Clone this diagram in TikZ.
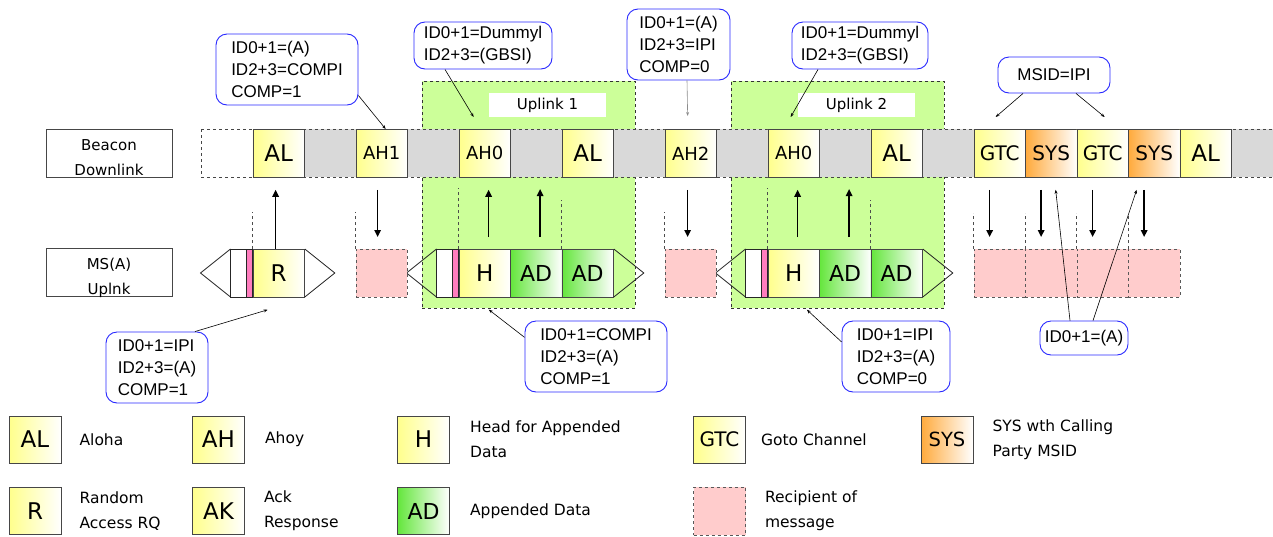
\documentclass[tikz,border=0pt]{standalone}
\usepackage{fontspec}
\setmainfont{DejaVu Sans}
\newfontfamily\calloutfont{Liberation Sans}
\usepackage{xcolor}
\definecolor{cellyellow}{RGB}{255,255,140}
\definecolor{cellgreen}{RGB}{100,230,60}
\definecolor{cellorange}{RGB}{255,170,60}
\definecolor{rcptpink}{RGB}{255,204,204}
\definecolor{markpink}{RGB}{255,125,190}
\definecolor{stripgray}{RGB}{217,217,217}
\definecolor{zonegreen}{RGB}{204,255,153}
\definecolor{calloutblue}{RGB}{40,40,255}
\definecolor{celledge}{RGB}{70,70,70}
\usepackage{tikz}
\usetikzlibrary{positioning,arrows.meta,calc}
\tikzset{
  yelshade/.style={left color=cellyellow,right color=white},
  grnshade/.style={left color=cellgreen,right color=white},
  orgshade/.style={left color=cellorange,right color=white},
  cell/.style={draw=celledge,line width=0.8pt,inner sep=0pt,
    minimum width=51.5pt,minimum height=48pt,anchor=north west},
  alcell/.style={cell,yelshade,font=\fontsize{23}{23}\selectfont},
  ahcell/.style={cell,yelshade,font=\fontsize{18}{18}\selectfont},
  gtccell/.style={cell,yelshade,font=\fontsize{20}{20}\selectfont},
  syscell/.style={cell,orgshade,font=\fontsize{20}{20}\selectfont},
  adcell/.style={cell,grnshade,font=\fontsize{22}{22}\selectfont},
  rcptcell/.style={cell,dashed,draw=black!65,fill=rcptpink},
  lanebox/.style={draw=celledge,line width=0.9pt,minimum width=126pt,
    minimum height=48pt,inner sep=0pt},
  lanetext/.style={align=center,inner sep=0pt,font=\fontsize{15}{25}\selectfont},
  uplinkzone/.style={draw=black!80,dashed,line width=0.7pt,fill=zonegreen,
    minimum width=213pt,minimum height=227pt,anchor=north west,inner sep=0pt},
  zonelabel/.style={fill=white,minimum width=117pt,minimum height=24pt,
    inner sep=0pt,font=\fontsize{15}{15}\selectfont},
  pktedge/.style={draw=black!85,line width=0.8pt},
  guide/.style={dashed,draw=black!70,line width=0.6pt},
  flow/.style={-{Triangle[length=7pt,width=6.5pt]},line width=1.4pt},
  callout/.style={draw=calloutblue,rounded corners=11pt,line width=0.9pt,
    fill=white,align=left,inner sep=0pt,
    font=\calloutfont\fontsize{17}{22}\selectfont},
  lead/.style={-{Stealth[length=4pt,width=3pt]},line width=0.6pt},
  legbox/.style={draw=celledge,line width=0.8pt,inner sep=0pt,
    minimum width=52pt,minimum height=47pt},
  legtext/.style={anchor=west,align=left,inner sep=0pt,
    font=\fontsize{15.5}{25}\selectfont},
}
\begin{document}
\begin{tikzpicture}[x=1pt,y=-1pt]
  \useasboundingbox (0,0) rectangle (1273,536);
  % --- uplink zones ---
  \node[uplinkzone] (UL1) at (422,81) {};
  \node[uplinkzone] (UL2) at (731,81) {};
  \node[zonelabel] (UL1lab) at (547.5,105) {Uplink 1};
  \node[zonelabel] (UL2lab) at (856.5,105) {Uplink 2};
  % --- lane labels ---
  \node[lanebox] (BD) at (109,153) {};
  \node[lanetext] (BDt) at ([yshift=-5pt]BD.center) {Beacon\\Downlink};
  \node[lanebox] (MS) at (109,272.5) {};
  \node[lanetext] (MSt) at ([yshift=-5pt]MS.center) {MS(A)\\Uplnk};
  % --- beacon strip ---
  \fill[white] (201,129) rectangle (252.5,177);
  \fill[stripgray] (252.5,129) rectangle (1273,177);
  \draw[guide,draw=celledge] (201,129) -- (1273,129) (201,177) -- (1273,177) (201,129) -- (201,177);
  \foreach \name/\k/\lab/\sty in {AL1/1/AL/alcell,AH1/3/AH1/ahcell,AH0a/5/AH0/ahcell,
      AL2/7/AL/alcell,AH2/9/AH2/ahcell,AH0b/11/AH0/ahcell,AL3/13/AL/alcell,
      GTC1/15/GTC/gtccell,SYS1/16/SYS/syscell,GTC2/17/GTC/gtccell,
      SYS2/18/SYS/syscell,AL4/19/AL/alcell}{
    \node[\sty] (\name) at ({201+\k*51.5},129) {\lab};}
  % --- uplink packets ---
  \foreach \name/\k/\lab/\sty in {R/1/R/alcell,H1/5/H/alcell,AD1a/6/AD/adcell,
      AD1b/7/AD/adcell,H2/11/H/alcell,AD2a/12/AD/adcell,AD2b/13/AD/adcell}{
    \node[\sty] (\name) at ({201+\k*51.5},249) {\lab};}
  \foreach \first/\last in {R/R,H1/AD1b,H2/AD2b}{
    \draw[pktedge,fill=white] ($(\first.north west)+(-22,0)$) rectangle ($(\first.south west)+(-6,0)$);
    \draw[pktedge,fill=markpink] ($(\first.north west)+(-6,0)$) rectangle (\first.south west);
    \draw[pktedge] ($(\first.north west)+(-22,0)$) -- ++(-30,24) -- ++(30,24);
    \draw[pktedge] (\last.north east) -- ++(30,24) -- ++(-30,24);
  }
  % --- recipients ---
  \foreach \name/\k in {RC1/3,RC2/9,RC3/15,RC4/16,RC5/17,RC6/18}{
    \node[rcptcell] (\name) at ({201+\k*51.5},249) {};}
  % --- guides ---
  \draw[guide] (R.north west) -- ++(0,-37);
  \draw[guide] (RC1.north west) -- ++(0,-37);
  \draw[guide] (H1.north west) -- ++(0,-61);
  \draw[guide] (AD1b.north west) -- ++(0,-49);
  \draw[guide] (RC2.north west) -- ++(0,-37);
  \draw[guide] (H2.north west) -- ++(0,-61);
  \draw[guide] (AD2b.north west) -- ++(0,-49);
  \foreach \t in {RC3,RC4,RC5,RC6}{\draw[guide] (\t.north west) -- ++(0,-36);}
  % --- arrows ---
  \draw[flow,shorten >=12pt] ([xshift=-3pt]R.north) -- ([xshift=-3pt]AL1.south);
  \draw[flow,shorten <=12pt,shorten >=12pt] ([xshift=-4pt]AH1.south) -- ([xshift=-4pt]RC1.north);
  \draw[flow,shorten <=12pt,shorten >=12pt] ([xshift=4pt]H1.north) -- ([xshift=4pt]AH0a.south);
  \draw[flow,shorten <=12pt] ([xshift=4pt]AD1a.north) -- ++(0,-60);
  \draw[flow,shorten <=12pt,shorten >=12pt] ([xshift=-3pt]AH2.south) -- ([xshift=-3pt]RC2.north);
  \draw[flow,shorten <=12pt,shorten >=12pt] ([xshift=4pt]H2.north) -- ([xshift=4pt]AH0b.south);
  \draw[flow,shorten <=12pt] ([xshift=4pt]AD2a.north) -- ++(0,-60);
  \foreach \s/\t in {GTC1/RC3,SYS1/RC4,GTC2/RC5,SYS2/RC6}{
    \draw[flow,shorten <=12pt,shorten >=12pt] ([xshift=-10pt]\s.south) -- ([xshift=-10pt]\t.north);}
  % --- callouts ---
  \node[callout,minimum width=142pt,minimum height=71pt] (C1) at (287,69.5) {ID0+1=(A)\\ID2+3=COMPI\\COMP=1};
  \node[callout,minimum width=138pt,minimum height=47pt] (C2) at (483,45.5) {ID0+1=Dummyl\\ID2+3=(GBSI)};
  \node[callout,minimum width=103pt,minimum height=71pt] (C3) at (678.5,44.5) {ID0+1=(A)\\ID2+3=IPI\\COMP=0};
  \node[callout,minimum width=136pt,minimum height=47pt] (C4) at (860,45.5) {ID0+1=Dummyl\\ID2+3=(GBSI)};
  \node[callout,minimum width=112pt,minimum height=36pt] (C5) at (1054,75) {MSID=IPI};
  \node[callout,minimum width=102pt,minimum height=71pt] (C6) at (157,367.5) {ID0+1=IPI\\ID2+3=(A)\\COMP=1};
  \node[callout,minimum width=142pt,minimum height=71pt] (C7) at (596,356.5) {ID0+1=COMPI\\ID2+3=(A)\\COMP=1};
  \node[callout,minimum width=108pt,minimum height=71pt] (C8) at (896,356.5) {ID0+1=IPI\\ID2+3=(A)\\COMP=0};
  \node[callout,minimum width=88pt,minimum height=34pt] (C9) at (1084,338) {ID0+1=(A)};
  % --- leaders ---
  \draw[lead] (C1.-20) -- ([xshift=4pt]AH1.north);
  \draw[lead] ([xshift=-38pt]C2.south) -- ($(AH0a.north)+(-11,-12)$);
  \draw[lead,draw=black!45] ([xshift=8.5pt]C3.south) -- ($(AH2.north)+(-3,-13)$);
  \draw[lead] ([xshift=-42pt]C4.south) -- ($(AH0b.north)+(-3,-12)$);
  \draw[lead] ([xshift=-31pt]C5.south) -- ($(GTC1.north)+(-4,-12)$);
  \draw[lead] ([xshift=22pt]C5.south) -- ($(GTC2.north)+(2,-12)$);
  \draw[lead] ([xshift=38pt]C6.north) -- ($(R.south)+(-11,12)$);
  \draw[lead] (C7.165) -- ([xshift=-40pt,yshift=-1pt]UL1.south);
  \draw[lead] (C8.165) -- ([xshift=-31pt,yshift=-1pt]UL2.south);
  \draw[lead] ([xshift=-14pt]C9.north) -- ($(SYS1.south)+(4.5,12)$);
  \draw[lead] ([xshift=9pt]C9.north) -- ($(SYS2.south)+(-17.5,12)$);
  % --- legend ---
  \node[legbox,yelshade,font=\fontsize{23}{23}\selectfont] (LAL) at (35,439.5) {AL};
  \node[legtext,right=18pt of LAL] (LALt) {Aloha};
  \node[legbox,yelshade,font=\fontsize{23}{23}\selectfont] (LAH) at (218.5,439.5) {AH};
  \node[legtext,right=20pt of LAH] (LAHt) {Ahoy};
  \node[legbox,yelshade,font=\fontsize{23}{23}\selectfont] (LH) at (423.5,439.5) {H};
  \node[legtext,right=20pt of LH] (LHt) {Head for Appended\\Data};
  \node[legbox,yelshade,font=\fontsize{20}{20}\selectfont] (LGTC) at (719.5,439.5) {GTC};
  \node[legtext,right=15pt of LGTC] (LGTCt) {Goto Channel};
  \node[legbox,orgshade,font=\fontsize{19.5}{20}\selectfont] (LSYS) at (947,439.5) {SYS};
  \node[legtext,right=19pt of LSYS] (LSYSt) {SYS wth Calling\\Party MSID};
  \node[legbox,yelshade,font=\fontsize{23}{23}\selectfont] (LR) at (35,511) {R};
  \node[legtext,right=18pt of LR] (LRt) {Random\\Access RQ};
  \node[legbox,yelshade,font=\fontsize{23}{23}\selectfont] (LAK) at (218.5,511) {AK};
  \node[legtext,right=19pt of LAK] (LAKt) {Ack\\Response};
  \node[legbox,grnshade,font=\fontsize{22}{22}\selectfont] (LAD) at (423.5,511) {AD};
  \node[legtext,right=20pt of LAD] (LADt) {Appended Data};
  \node[legbox,dashed,draw=black!65,fill=rcptpink,minimum height=48pt] (LRC) at (719.5,511) {};
  \node[legtext,right=19pt of LRC] (LRCt) {Recipient of\\message};
\end{tikzpicture}
\end{document}
